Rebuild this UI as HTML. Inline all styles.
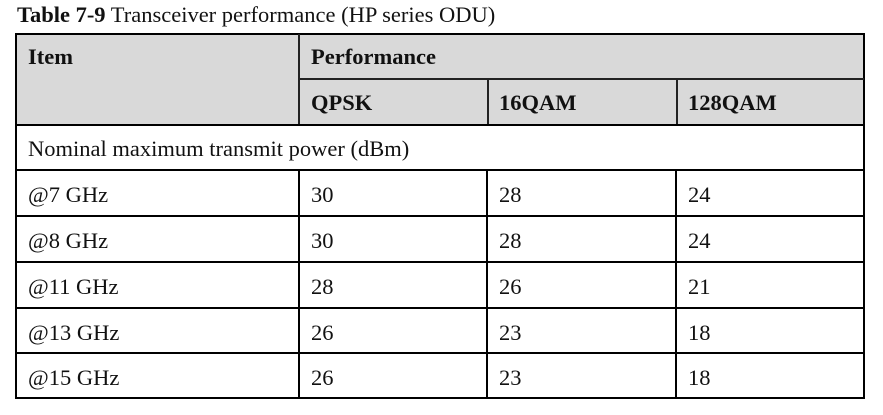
<!DOCTYPE html>
<html><head><meta charset="utf-8"><style>
body{margin:0;width:883px;height:415px;background:#fff;position:relative;overflow:hidden;font-family:"Liberation Serif",serif;color:#111}
.l{position:absolute;background:#000}
.t{position:absolute;font-size:22.5px;line-height:24px;white-space:nowrap}
.b{font-weight:bold}
.g{position:absolute;background:#d9d9d9}
</style></head><body>
<div class="t" style="left:17px;top:3px"><b>Table 7-9</b> Transceiver performance (HP series ODU)</div>
<div class="g" style="left:16px;top:34px;width:848px;height:91px"></div>
<div id="tbl"></div>
<script>
const cols=[16,299,487,676,864];
const rows=[34,79,125,170,216,262,308,353,398];
const freqs=['@7 GHz','@8 GHz','@11 GHz','@13 GHz','@15 GHz'];
const qpsk=[30,30,28,26,26];
const qam16=[28,28,26,23,23];
const qam128=[24,24,21,18,18];
const body=document.body;
function line(x,y,w,h,name,c){const d=document.createElement('div');d.className='l';d.style.cssText=`left:${x}px;top:${y}px;width:${w}px;height:${h}px;`+(c?`background:${c}`:'');


body.appendChild(d);}
function text(x,y,s,bold,name){const d=document.createElement('div');d.className='t'+(bold?' b':'');d.style.left=x+'px';d.style.top=y+'px';d.textContent=s;


body.appendChild(d);}
line(15,33,850,2,'border-top');line(15,397,850,2,'border-bottom');
line(15,33,2,366,'border-left');line(863,33,2,366,'border-right');
line(298,34,2,91,'header-divider','#222');
line(299,78,565,1.5,'header-subline','#222');
line(487,79,1.5,46,'header-col-divider','#222');
line(676,79,1.5,46,'header-col-divider','#222');
for(let i=2;i<rows.length-1;i++)line(16,rows[i]-1,848,2,'row-line');
for(let i=1;i<4;i++)line(cols[i]-1,rows[3],2,rows[8]-rows[3],'col-line');
text(28,45,'Item',true,'header-item');
text(311,45,'Performance',true,'header-performance');
['QPSK','16QAM','128QAM'].forEach((s,i)=>text(cols[i+1]+12,91,s,true,'header-'+s.toLowerCase()));
text(28,137,'Nominal maximum transmit power (dBm)',false,'section-label');
freqs.forEach((f,i)=>{const y=rows[i+3]+13;
text(28,y,f,false,'row-label');
text(cols[1]+12,y,String(qpsk[i]),false,'cell-qpsk');
text(cols[2]+12,y,String(qam16[i]),false,'cell-16qam');
text(cols[3]+12,y,String(qam128[i]),false,'cell-128qam');});
</script>
</body></html>
